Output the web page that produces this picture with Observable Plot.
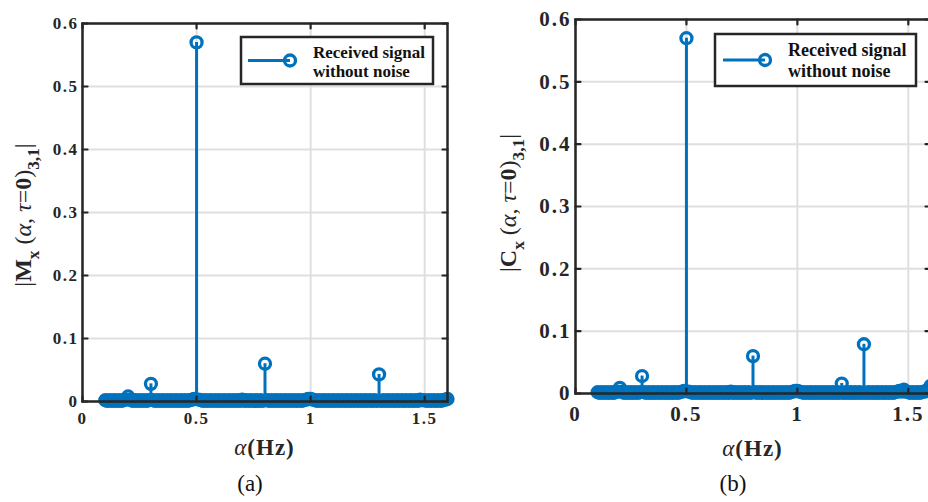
<!DOCTYPE html>
<html><head><meta charset="utf-8">
<script src="https://cdn.jsdelivr.net/npm/d3@7"></script>
<script src="https://cdn.jsdelivr.net/npm/@observablehq/plot@0.6"></script>
<style>
html,body{margin:0;padding:0;background:#fff;width:928px;height:502px;overflow:hidden}
#wrap{position:relative;width:928px;height:502px;overflow:hidden}
#wrap svg{position:absolute;top:0}
</style></head><body><div id="wrap"></div>
<script>
// ---- data ----
const alpha = [
0.10,0.11,0.12,0.13,0.14,0.15,0.16,0.17,0.18,0.19,
0.20,0.21,0.22,0.23,0.24,0.25,0.26,0.27,0.28,0.29,
0.30,0.31,0.32,0.33,0.34,0.35,0.36,0.37,0.38,0.39,
0.40,0.41,0.42,0.43,0.44,0.45,0.46,0.47,0.48,0.49,
0.50,0.51,0.52,0.53,0.54,0.55,0.56,0.57,0.58,0.59,
0.60,0.61,0.62,0.63,0.64,0.65,0.66,0.67,0.68,0.69,
0.70,0.71,0.72,0.73,0.74,0.75,0.76,0.77,0.78,0.79,
0.80,0.81,0.82,0.83,0.84,0.85,0.86,0.87,0.88,0.89,
0.90,0.91,0.92,0.93,0.94,0.95,0.96,0.97,0.98,0.99,
1.00,1.01,1.02,1.03,1.04,1.05,1.06,1.07,1.08,1.09,
1.10,1.11,1.12,1.13,1.14,1.15,1.16,1.17,1.18,1.19,
1.20,1.21,1.22,1.23,1.24,1.25,1.26,1.27,1.28,1.29,
1.30,1.31,1.32,1.33,1.34,1.35,1.36,1.37,1.38,1.39,
1.40,1.41,1.42,1.43,1.44,1.45,1.46,1.47,1.48,1.49,
1.50,1.51,1.52,1.53,1.54,1.55,1.56,1.57,1.58,1.59,
1.60];
const valuesA = [
0.002,0.001,0.002,0.001,0.002,0.001,0.002,0.001,0.002,0.003,
0.008,0.003,0.001,0.002,0.001,0.002,0.001,0.002,0.001,0.002,
0.028,0.002,0.001,0.002,0.001,0.002,0.001,0.002,0.001,0.002,
0.001,0.002,0.001,0.002,0.001,0.002,0.001,0.002,0.003,0.004,
0.570,0.003,0.002,0.001,0.002,0.001,0.002,0.001,0.002,0.001,
0.002,0.001,0.002,0.001,0.002,0.001,0.002,0.001,0.002,0.001,
0.003,0.001,0.002,0.001,0.002,0.001,0.002,0.001,0.002,0.001,
0.060,0.002,0.001,0.002,0.001,0.002,0.001,0.002,0.001,0.002,
0.001,0.002,0.001,0.002,0.001,0.002,0.001,0.002,0.003,0.004,
0.004,0.003,0.002,0.001,0.002,0.001,0.002,0.001,0.002,0.001,
0.002,0.001,0.002,0.001,0.002,0.001,0.002,0.001,0.002,0.001,
0.002,0.001,0.002,0.001,0.002,0.001,0.002,0.001,0.002,0.001,
0.043,0.001,0.002,0.001,0.002,0.001,0.002,0.001,0.002,0.001,
0.002,0.001,0.002,0.001,0.002,0.001,0.002,0.001,0.003,0.002,
0.002,0.001,0.002,0.001,0.002,0.001,0.002,0.001,0.002,0.003,
0.004];
const valuesB = [
0.002,0.001,0.002,0.001,0.002,0.001,0.002,0.001,0.002,0.003,
0.009,0.003,0.001,0.002,0.001,0.002,0.001,0.002,0.001,0.002,
0.028,0.002,0.001,0.002,0.001,0.002,0.001,0.002,0.001,0.002,
0.001,0.002,0.001,0.002,0.001,0.002,0.001,0.002,0.003,0.004,
0.570,0.003,0.002,0.001,0.002,0.001,0.002,0.001,0.002,0.001,
0.002,0.001,0.002,0.001,0.002,0.001,0.002,0.001,0.002,0.001,
0.003,0.001,0.002,0.001,0.002,0.001,0.002,0.001,0.002,0.001,
0.060,0.002,0.001,0.002,0.001,0.002,0.001,0.002,0.001,0.002,
0.001,0.002,0.001,0.002,0.001,0.002,0.001,0.002,0.003,0.004,
0.004,0.003,0.002,0.001,0.002,0.001,0.002,0.001,0.002,0.001,
0.002,0.001,0.002,0.001,0.002,0.001,0.002,0.001,0.002,0.001,
0.016,0.001,0.002,0.001,0.002,0.001,0.002,0.001,0.002,0.001,
0.079,0.001,0.002,0.001,0.002,0.001,0.002,0.001,0.002,0.001,
0.002,0.001,0.002,0.001,0.002,0.003,0.004,0.003,0.006,0.003,
0.002,0.001,0.002,0.001,0.002,0.001,0.002,0.003,0.004,0.006,
0.012];
const xTicks = [0, 0.5, 1, 1.5];
const yTicks = [0, 0.1, 0.2, 0.3, 0.4, 0.5, 0.6];
const xDomain = [0, 1.6];
const yDomain = [0, 0.6];
const legendLines = ["Received signal", "without noise"];
const captions = ["(a)", "(b)"];
const yLabelA = [["|",""],["M","b"],["x","bsub"],[" (",""],["α","i"],[", ",""],["τ","i"],["=","" ],["0","b"],[")",""],["3,1","bsub"],["|",""]];
const yLabelB = [["|",""],["C","b"],["x","bsub"],[" (",""],["α","i"],[", ",""],["τ","i"],["=","" ],["0","b"],[")",""],["3,1","bsub"],["|",""]];
const xLabel = [["α","i"],["(Hz)","b"]];

// ---- drawing ----
const blue = "#0072BD", ink = "#262626", gridColor = "#dfdfdf";
const serif = '"Liberation Serif", "Times New Roman", serif';
const tickShape = {draw(context, l) { context.moveTo(0, 0); context.lineTo(0, -l); }};

function richText(sel, parts, size) {
  let shifted = false;
  parts.forEach(([t, s]) => {
    const ts = sel.append("tspan").text(t);
    const sub = s.includes("sub");
    if (sub && !shifted) { ts.attr("dy", size * 0.32); shifted = true; }
    else if (!sub && shifted) { ts.attr("dy", -size * 0.32); shifted = false; }
    if (sub) ts.attr("font-size", size * 0.72);
    if (s.includes("b")) ts.attr("font-weight", "bold");
    if (s.includes("i")) ts.attr("font-style", "italic");
  });
}

function makePanel(values, cfg) {
  const data = alpha.map((a, i) => ({alpha: a, value: values[i]}));
  const tk = {stroke: ink, strokeWidth: 2.2, length: 5, anchor: "start", shape: tickShape};
  const node = Plot.plot({
    width: cfg.width, height: 502,
    marginLeft: cfg.ml, marginRight: cfg.mr, marginTop: cfg.mt, marginBottom: cfg.mb,
    style: {fontFamily: serif, background: "transparent", overflow: "visible", color: ink},
    x: {domain: xDomain, label: null},
    y: {domain: yDomain, label: null},
    marks: [
      Plot.gridX(xTicks, {stroke: gridColor, strokeOpacity: 1, strokeWidth: 2}),
      Plot.gridY(yTicks, {stroke: gridColor, strokeOpacity: 1, strokeWidth: 2}),
      Plot.ruleX(data, {x: "alpha", y1: 0, y2: "value", stroke: blue, strokeWidth: 3}),
      Plot.dot(data, {x: "alpha", y: "value", r: 5.5, stroke: blue, strokeWidth: 3.3, fill: "none"}),
      Plot.frame({stroke: ink, strokeWidth: 2.5}),
      Plot.vector(xTicks, {...tk, x: d => d, frameAnchor: "bottom", rotate: 0}),
      Plot.vector(xTicks, {...tk, x: d => d, frameAnchor: "top", rotate: 180}),
      Plot.vector(yTicks, {...tk, y: d => d, frameAnchor: "left", rotate: 90}),
      Plot.vector(yTicks, {...tk, y: d => d, frameAnchor: "right", rotate: -90}),
      Plot.axisX(xTicks, {tickSize: 0, tickPadding: cfg.xpad, tickFormat: d => String(d), fontSize: cfg.tickFont, fontWeight: "bold", fill: ink, label: null}),
      Plot.axisY(yTicks, {tickSize: 0, tickPadding: cfg.ypad, tickFormat: d => String(d), fontSize: cfg.tickFont, fontWeight: "bold", fill: ink, label: null})
    ]
  });
  node.style.left = cfg.left + "px";
  const svg = d3.select(node);
  svg.selectAll('g[aria-label="x-axis tick label"] text, g[aria-label="y-axis tick label"] text')
     .attr("letter-spacing", cfg.ls);

  // y label
  const yl = svg.append("text")
    .attr("transform", `translate(${cfg.ylx},${cfg.yly}) rotate(-90)`)
    .attr("text-anchor", "middle").attr("font-family", serif)
    .attr("font-size", cfg.ylFont).attr("fill", ink);
  richText(yl, cfg.yLabel, cfg.ylFont);

  // x label
  const xl = svg.append("text")
    .attr("x", cfg.xlx).attr("y", cfg.xly)
    .attr("text-anchor", "middle").attr("font-family", serif)
    .attr("font-size", cfg.xlFont).attr("fill", ink).attr("letter-spacing", 1);
  richText(xl, xLabel, cfg.xlFont);

  // caption
  svg.append("text").attr("x", cfg.capx).attr("y", 491).attr("text-anchor", "middle")
    .attr("font-family", serif).attr("font-size", 23).attr("fill", "#111").text(cfg.caption);

  // legend
  const L = cfg.legend;
  const g = svg.append("g");
  g.append("rect").attr("x", L.x).attr("y", L.y).attr("width", L.w).attr("height", L.h)
    .attr("fill", "white").attr("stroke", ink).attr("stroke-width", 2.5);
  g.append("line").attr("x1", L.lx1).attr("x2", L.lx2).attr("y1", L.ly).attr("y2", L.ly)
    .attr("stroke", blue).attr("stroke-width", 3);
  g.append("circle").attr("cx", L.lx2).attr("cy", L.ly).attr("r", 5.5)
    .attr("fill", "none").attr("stroke", blue).attr("stroke-width", 3.3);
  legendLines.forEach((s, i) => {
    g.append("text").attr("x", L.tx).attr("y", L.ty + i * L.dy)
      .attr("text-anchor", "start")
      .attr("font-family", serif).attr("font-weight", "bold").attr("font-size", L.font)
      .attr("fill", "#111").text(s);
  });
  document.getElementById("wrap").appendChild(node);
}

makePanel(valuesA, {
  left: 0, width: 464, ml: 82, mr: 17, mt: 23, mb: 101,
  tickFont: 17, ls: 1.5, xpad: 10, ypad: 4,
  yLabel: yLabelA, ylx: 31, yly: 215, ylFont: 24,
  xlx: 264.5, xly: 455, xlFont: 23,
  capx: 250, caption: captions[0],
  legend: {x: 241, y: 37, w: 192, h: 47, lx1: 248, lx2: 290, ly: 60.5, tx: 313, ty: 58, dy: 18.5, font: 17}
});
makePanel(valuesB, {
  left: 464, width: 470, ml: 111, mr: 4, mt: 19, mb: 109,
  tickFont: 21, ls: 2, xpad: 13, ypad: 4,
  yLabel: yLabelB, ylx: 52, yly: 203, ylFont: 24,
  xlx: 288.5, xly: 456, xlFont: 23,
  capx: 269, caption: captions[1],
  legend: {x: 251, y: 34, w: 201, h: 52, lx1: 259, lx2: 301, ly: 60, tx: 324, ty: 56, dy: 20.5, font: 18}
});
</script></body></html>
